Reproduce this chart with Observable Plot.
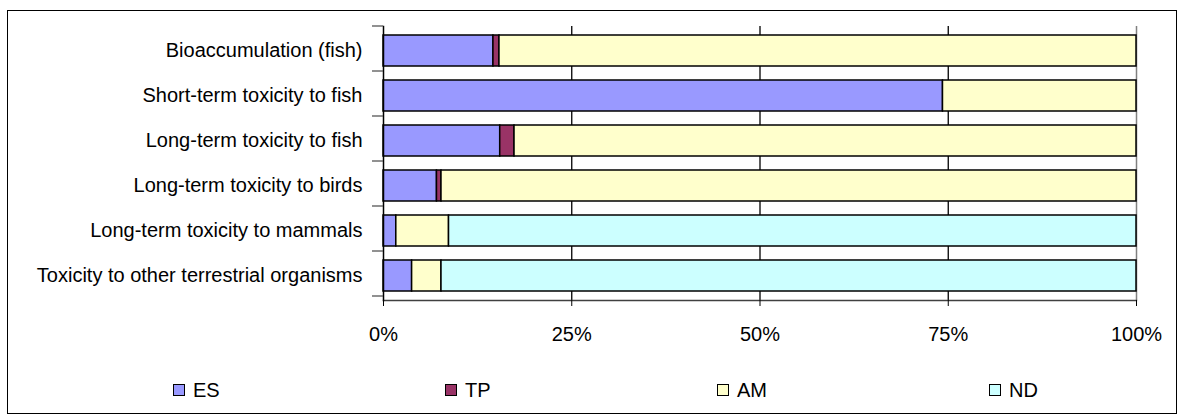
<!DOCTYPE html>
<html><head><meta charset="utf-8">
<script src="https://cdn.jsdelivr.net/npm/d3@7"></script>
<script src="https://cdn.jsdelivr.net/npm/@observablehq/plot@0.6"></script>
<style>
body{margin:0;background:#fff;font-family:"Liberation Sans",Arial,sans-serif;}
#wrap{position:relative;width:1182px;height:418px;overflow:hidden}
#frame{position:absolute;left:7px;top:10px;width:1170px;height:404px;border:1px solid #000;box-sizing:border-box;pointer-events:none}
#chart{position:absolute;left:0;top:0}
#legend{position:absolute;left:0;top:378px;width:1182px;height:24px;font-size:20px;color:#000}
.item{position:absolute;top:0;display:flex;align-items:center;height:24px;white-space:nowrap}
.sw{width:12px;height:12px;border:1.5px solid #000;margin-right:8px;box-sizing:border-box}
</style></head>
<body>
<div id="wrap"><div id="chart"></div><div id="legend"></div><div id="frame"></div></div>
<script>
const categories = ["Bioaccumulation (fish)", "Short-term toxicity to fish", "Long-term toxicity to fish", "Long-term toxicity to birds", "Long-term toxicity to mammals", "Toxicity to other terrestrial organisms"];
const seriesNames = ["ES", "TP", "AM", "ND"];
const ES = [14.6, 74.3, 15.5, 7.1, 1.7, 3.8];
const TP = [0.8, 0, 1.9, 0.6, 0, 0];
const AM = [84.6, 25.7, 82.6, 92.3, 7.0, 3.9];
const ND = [0, 0, 0, 0, 91.3, 92.3];
const seriesColors = ["#9999FF", "#993366", "#FFFFCC", "#CCFFFF"];
const xTicks = [0, 25, 50, 75, 100];
const gridTicks = [25, 50, 75];

const seriesValues = {ES, TP, AM, ND};
const data = [];
categories.forEach((c, i) => {
  seriesNames.forEach(s => {
    const v = seriesValues[s][i];
    if (v > 0) data.push({category: c, series: s, value: v});
  });
});

const font = "Liberation Sans, Arial, sans-serif";
const chart = Plot.plot({
  width: 1182, height: 350,
  marginLeft: 383, marginRight: 46, marginTop: 26, marginBottom: 50,
  style: {fontFamily: font, fontSize: "20px", background: "transparent", overflow: "visible", color: "#000"},
  x: {domain: [0, 100], label: null},
  y: {domain: categories, paddingInner: 0.32, paddingOuter: 0.16, label: null},
  color: {domain: seriesNames, range: seriesColors},
  marks: [
    Plot.ruleX(gridTicks, {x: d => d, stroke: "#000", strokeWidth: 1.3}),
    Plot.ruleX([100], {x: d => d, stroke: "#808080", strokeWidth: 1.5}),
    Plot.barX(data, Plot.stackX({x: "value", y: "category", fill: "series", order: seriesNames, stroke: "#000", strokeWidth: 1.5})),
    Plot.frame({anchor: "bottom", stroke: "#404040", strokeWidth: 1.3}),
    Plot.frame({anchor: "left", stroke: "#000", strokeWidth: 1.5}),
    Plot.axisX({ticks: xTicks, tickFormat: d => d + "%", tickSize: 6, tickPadding: 20, fontSize: 20, stroke: "#000", strokeOpacity: 1}),
    Plot.axisY({tickSize: 0, tickPadding: 21, fontSize: 20})
  ]
});
document.getElementById("chart").appendChild(chart);

// band boundary ticks on the category axis, derived from the y scale
const ys = chart.scale("y");
const x0 = chart.scale("x").apply(0);
const svg = d3.select(chart);
const n = categories.length;
for (let i = 0; i <= n; i++) {
  const yy = ys.range[0] + i * ys.step;
  svg.append("line")
    .attr("x1", x0 - 11).attr("x2", x0)
    .attr("y1", yy).attr("y2", yy)
    .attr("stroke", "#555").attr("stroke-width", 1.3);
}

// legend
const legend = document.getElementById("legend");
seriesNames.forEach((s, i) => {
  const it = document.createElement("div");
  it.className = "item";
  it.style.left = (173 + i * 272) + "px";
  const sw = document.createElement("div");
  sw.className = "sw";
  sw.style.background = seriesColors[i];
  const t = document.createElement("span");
  t.textContent = s;
  it.appendChild(sw); it.appendChild(t);
  legend.appendChild(it);
});
</script>
</body></html>
